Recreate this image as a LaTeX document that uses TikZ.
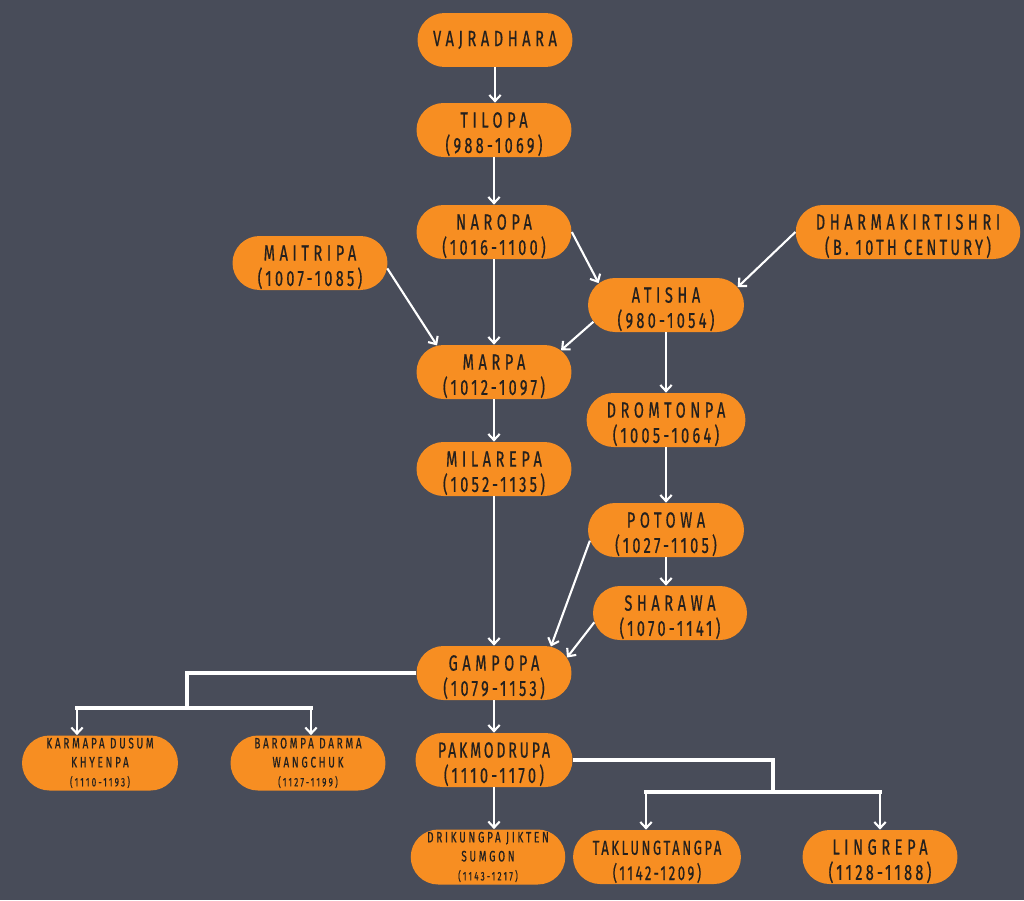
\documentclass[tikz,border=0pt]{standalone}
\usepackage{fontspec}
\usetikzlibrary{shapes.misc,arrows.meta}

\newfontfamily\lamafont[FakeStretch=0.66,LetterSpace=21,FakeBold=0.6]{Fira Sans}
\newfontfamily\lamadatefont[FakeStretch=0.66,LetterSpace=15,FakeBold=0.6]{Fira Sans}
\newfontfamily\lamasmallfont[FakeStretch=0.66,LetterSpace=18,FakeBold=0.6]{Fira Sans}
\newfontfamily\lamatightfont[FakeStretch=0.64,LetterSpace=13,FakeBold=0.6]{Fira Sans}
\newcommand{\lamastrut}{\rule{0pt}{13.5pt}}
\definecolor{slateBg}{RGB}{72,76,89}
\definecolor{lamaOrange}{RGB}{247,142,34}
\definecolor{lamaText}{RGB}{36,32,30}

\begin{document}
\begin{tikzpicture}
[x=0.02cm,y=-0.02cm,
  lamaDecorate/.style={shape=rounded rectangle,fill=lamaOrange,inner sep=0pt,
    minimum height=1.08cm,align=center,text=lamaText,
    font=\lamafont\fontsize{12.5}{14.4}\selectfont},
  tightDecorate/.style={lamaDecorate,
    font=\lamatightfont\fontsize{11.5}{14.4}\selectfont},
  smallDecorate/.style={lamaDecorate,minimum height=1.1cm,
    font=\lamasmallfont\fontsize{8.6}{10.8}\selectfont},
  lineDecorate/.style={draw=white,line width=1.2pt,
    -{Straight Barb[length=3.5pt,width=6.5pt]}},
  trunkDecorate/.style={draw=white,line width=2.8pt},
  barDecorate/.style={draw=white,line width=2pt,line cap=rect}]
%% background
\fill[slateBg] (0,0) rectangle (1024,900);
%% lamas
\node (vajradhara) at (495,40) [lamaDecorate,minimum width=3.1cm] {VAJRADHARA};
\foreach \nodename/\x/\y/\w/\txt/\dates in {
  tilopa/494/130/3.1/{TILOPA}/{(988-1069)},
  naropa/494/232/3.1/{NAROPA}/{(1016-1100)},
  maitripa/310/263/3.1/{MAITRIPA}/{(1007-1085)},
  dharmakirti/908/232/4.38/{DHARMAKIRTISHRI}/{(B. 10TH CENTURY)},
  atisha/666/305/3.12/{ATISHA}/{(980-1054)},
  marpa/494/372/3.1/{MARPA}/{(1012-1097)},
  dromtonpa/666/420/3.12/{DROMTONPA}/{(1005-1064)},
  milarepa/494/469/3.1/{MILAREPA}/{(1052-1135)},
  potowa/666/530/3.12/{POTOWA}/{(1027-1105)},
  sharawa/670/613/3.08/{SHARAWA}/{(1070-1141)},
  gampopa/494/673/3.1/{GAMPOPA}/{(1079-1153)},
  pakmodrupa/494/760/3.14/{{\lamatightfont PAKMODRUPA}}/{(1110-1170)},
  lingrepa/880/857/3.1/{LINGREPA}/{(1128-1188)}}
{
  \node (\nodename) at (\x,\y) [lamaDecorate,minimum width=\w cm]
    {\lamastrut\txt\\{\lamadatefont\dates}};
}
\node (taklung) at (657,857) [tightDecorate,minimum width=2.66cm]
  {\lamastrut TAKLUNGTANGPA\\(1142-1209)};
\foreach \nodename/\x/\y/\w/\txt/\dates in {
  karmapa/100/763/3.12/{KARMAPA DUSUM\\KHYENPA}/{(1110-1193)},
  barompa/308/763/3.1/{BAROMPA DARMA\\WANGCHUK}/{(1127-1199)},
  drikungpa/488/857/2.88/{DRIKUNGPA JIKTEN\\SUMGON}/{(1143-1217)}}
{
  \node (\nodename) at (\x,\y) [smallDecorate,minimum width=\w cm]
    {\txt\\{\fontsize{7}{8.4}\selectfont\dates}};
}
%% straight lines of descent
\path
\foreach \startnode/\endnode in {
  vajradhara/tilopa, tilopa/naropa, naropa/marpa, marpa/milarepa,
  milarepa/gampopa, gampopa/pakmodrupa, pakmodrupa/drikungpa,
  atisha/dromtonpa, dromtonpa/potowa, potowa/sharawa}
{
  (\startnode.south) edge[lineDecorate] (\startnode.south |- \endnode.north)
};
%% slanted lines
\path
\foreach \startnode/\sa/\endnode/\ea in {
  naropa/east/atisha/162, maitripa/-4/marpa/155,
  dharmakirti/west/atisha/14, atisha/193/marpa/18,
  potowa/188/gampopa/25, sharawa/187/gampopa/12}
{
  (\startnode.\sa) edge[lineDecorate] (\endnode.\ea)
};
%% branches
\coordinate (gSplit) at (187,708);
\coordinate (gLeft) at (77,708);
\coordinate (gRight) at (311,708);
\coordinate (pSplit) at (773,792);
\coordinate (pLeft) at (646,792);
\coordinate (pRight) at (880,792);
\draw[trunkDecorate] (gampopa.west) -| (gSplit);
\draw[trunkDecorate] (pakmodrupa.east) -| (pSplit);
\draw[barDecorate] (gLeft) -- (gRight);
\draw[barDecorate] (pLeft) -- (pRight);
\draw[lineDecorate] (gLeft) -- (gLeft |- karmapa.north);
\draw[lineDecorate] (gRight) -- (gRight |- barompa.north);
\draw[lineDecorate] (pLeft) -- (pLeft |- taklung.north);
\draw[lineDecorate] (pRight) -- (pRight |- lingrepa.north);
\end{tikzpicture}
\end{document}
